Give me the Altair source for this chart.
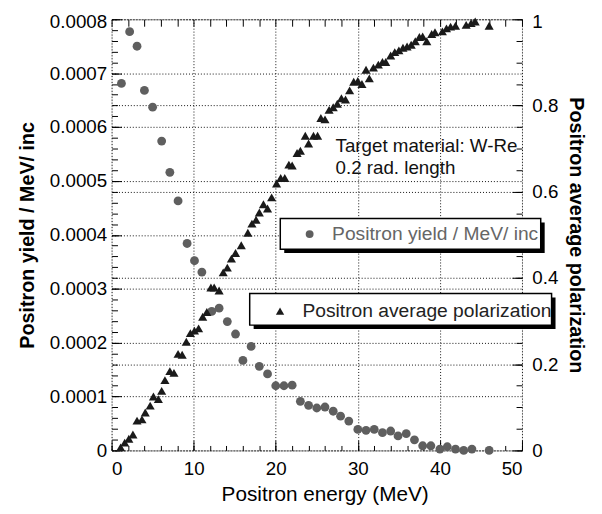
import altair as alt
import pandas as pd

FONT = "Liberation Sans"

# ---- data ----
yield_energy = [1.2, 2.2, 3.1, 4.0, 5.0, 6.1, 7.1, 8.1, 9.2, 10.1, 11.0, 12.2, 13.1, 14.1,
                15.1, 16.0, 17.0, 18.0, 19.0, 20.0, 21.0, 22.0, 23.0, 24.0, 25.0, 26.0,
                27.0, 27.9, 28.9, 30.0, 31.0, 32.0, 33.0, 34.0, 34.9, 35.9, 36.9, 37.9,
                38.9, 40.0, 40.9, 41.9, 42.9, 43.9, 46.0]
yield_values = [0.000681, 0.000777, 0.000750, 0.000668, 0.000637, 0.000574, 0.000516,
                0.000463, 0.000384, 0.000352, 0.000331, 0.000258, 0.000264, 0.000239,
                0.000216, 0.000167, 0.000193, 0.000156, 0.000142, 0.000120, 0.000120,
                0.000121, 0.0000910, 0.0000837, 0.0000787, 0.0000805, 0.0000727,
                0.0000635, 0.0000544, 0.0000390, 0.0000372, 0.0000390, 0.0000330,
                0.0000360, 0.0000269, 0.0000311, 0.0000196, 0.0000086, 0.0000086,
                0.0000024, 0.0000068, 0.0000024, 0.0, 0.0000024, 0.0]

pol_energy = [1.1, 1.6, 2.1, 2.6, 3.1, 3.7, 4.1, 4.7, 5.1, 5.7, 6.1, 6.5, 7.1, 7.6, 8.1,
              8.6, 9.1, 9.6, 10.1, 10.6, 11.1, 11.6, 12.1, 12.5, 13.1, 13.6, 14.1, 14.6,
              15.1, 15.8, 16.6, 17.1, 17.6, 18.0, 18.5, 19.0, 19.5, 20.1, 20.6, 21.1,
              21.6, 22.0, 22.6, 23.0, 23.6, 24.0, 24.6, 25.1, 25.5, 26.0, 26.5, 27.0,
              27.5, 28.0, 28.5, 29.0, 29.5, 30.0, 30.5, 31.0, 31.4, 31.9, 32.5, 33.0,
              33.4, 34.0, 34.5, 35.0, 35.5, 36.0, 36.5, 37.0, 37.5, 37.9, 38.4, 39.0,
              39.4, 40.3, 40.8, 41.3, 41.9, 43.2, 43.8, 44.3, 46.0]
pol_values = [0.007, 0.018, 0.027, 0.037, 0.069, 0.072, 0.088, 0.104, 0.125, 0.119, 0.138,
              0.163, 0.184, 0.180, 0.224, 0.222, 0.252, 0.272, 0.278, 0.283, 0.310, 0.321,
              0.378, 0.378, 0.371, 0.413, 0.424, 0.445, 0.458, 0.476, 0.505, 0.526, 0.535,
              0.552, 0.571, 0.561, 0.587, 0.619, 0.632, 0.632, 0.663, 0.661, 0.690, 0.695,
              0.730, 0.712, 0.730, 0.730, 0.771, 0.768, 0.790, 0.796, 0.804, 0.817, 0.814,
              0.835, 0.855, 0.857, 0.850, 0.883, 0.863, 0.888, 0.895, 0.901, 0.901, 0.916,
              0.924, 0.928, 0.934, 0.937, 0.941, 0.949, 0.959, 0.960, 0.949, 0.966, 0.970,
              0.972, 0.979, 0.983, 0.985, 0.987, 0.991, 0.995, 0.985]

YIELD_LABEL = "Positron yield / MeV/ inc"
POL_LABEL = "Positron average polarization"
X_TITLE = "Positron energy (MeV)"
NOTE_LINE1 = "Target material: W-Re"
NOTE_LINE2 = "0.2 rad. length"

x_major = [0, 10, 20, 30, 40, 50]
x_minor = list(range(0, 51, 2))
yl_major = [0, 0.0001, 0.0002, 0.0003, 0.0004, 0.0005, 0.0006, 0.0007, 0.0008]
yl_minor = [i * 0.00002 for i in range(41)]
yr_major = [0, 0.2, 0.4, 0.6, 0.8, 1.0]
yr_minor = [i * 0.05 for i in range(21)]

df_yield = pd.DataFrame({"energy": yield_energy, "yield": yield_values,
                         "series": [YIELD_LABEL] * len(yield_energy)})
df_pol = pd.DataFrame({"energy": pol_energy, "pol": pol_values,
                       "series": [POL_LABEL] * len(pol_energy)})
one = pd.DataFrame({"k": [0]})

W, H = 416, 437
xscale = alt.Scale(domain=[0, 50], nice=False, zero=False)
ylscale = alt.Scale(domain=[0, 0.0008], nice=False)
yrscale = alt.Scale(domain=[0, 1], nice=False)

GRID = dict(grid=True, gridColor="#111111", gridDash=[1, 2], gridWidth=1)
common = dict(domain=False, tickColor="black", tickWidth=1, labelFont=FONT,
              labelColor="black", titleFont=FONT, titleColor="black")

# yield layer with major axes (bottom, left)
L1 = alt.Chart(df_yield).mark_circle(size=80, opacity=1).encode(
    x=alt.X("energy:Q", scale=xscale, axis=alt.Axis(
        orient="bottom", values=x_major, format="d", title=X_TITLE,
        tickSize=10, offset=-10, labelPadding=9, labelFontSize=19,
        titleFontSize=21, titleFontWeight="normal", titlePadding=6,
        titleX=W / 2 + 8, **GRID, **common)),
    y=alt.Y("yield:Q", scale=ylscale, axis=alt.Axis(
        orient="left", values=yl_major, format="~g", title=YIELD_LABEL,
        tickSize=10, offset=-10, labelPadding=5, labelFontSize=19,
        labelOffset=alt.condition("datum.value >= 0.00079", alt.value(2), alt.value(0)),
        titleFontSize=20, titleFontWeight="bold", titlePadding=12, **GRID, **common)),
    color=alt.Color("series:N", scale=alt.Scale(domain=[YIELD_LABEL], range=["#5f5f5f"]),
                    legend=alt.Legend(orient="none", legendX=191, legendY=208, title=None,
                                      labelFont=FONT, labelFontSize=19.5, labelColor="#666666",
                                      symbolSize=64, symbolType="circle", labelOffset=13,
                                      padding=0, labelLimit=0, zindex=1)),
)

# yield layer with minor ticks (bottom, left)
L2 = alt.Chart(df_yield).mark_circle(opacity=0).encode(
    x=alt.X("energy:Q", scale=xscale, axis=alt.Axis(
        orient="bottom", values=x_minor, labels=False, title=None, grid=False,
        tickSize=5, offset=-5, **common)),
    y=alt.Y("yield:Q", scale=ylscale, axis=alt.Axis(
        orient="left", values=yl_minor, labels=False, title=None, grid=False,
        tickSize=6, offset=-6, **common)),
)

# top ticks
L3 = alt.Chart(df_yield).mark_circle(opacity=0).encode(
    x=alt.X("energy:Q", scale=xscale, axis=alt.Axis(
        orient="top", values=x_minor, labels=False, title=None, grid=False,
        tickSize=7, offset=-7, **common)),
    y=alt.Y("yield:Q", scale=ylscale, axis=None),
)

P1 = alt.Chart(df_pol).mark_point(shape="triangle-up", filled=True, size=85, opacity=1).encode(
    x=alt.X("energy:Q", scale=xscale, axis=None),
    y=alt.Y("pol:Q", scale=yrscale, axis=alt.Axis(
        orient="right", values=yr_major, format="~g", title=POL_LABEL,
        tickSize=10, offset=-10, labelPadding=10, labelFontSize=19,
        labelOffset=alt.condition("datum.value >= 0.99", alt.value(2), alt.value(0)),
        titleFontSize=20, titleFontWeight="bold", titlePadding=8, **GRID, **common)),
    color=alt.Color("series:N", scale=alt.Scale(domain=[POL_LABEL], range=["#1a1a1a"]),
                    legend=alt.Legend(orient="none", legendX=161, legendY=286, title=None,
                                      labelFont=FONT, labelFontSize=19.5, labelColor="#222222",
                                      symbolSize=70, symbolType="triangle-up", labelOffset=13,
                                      padding=0, labelLimit=0, zindex=1)),
)

P2 = alt.Chart(df_pol).mark_point(opacity=0).encode(
    x=alt.X("energy:Q", scale=xscale, axis=None),
    y=alt.Y("pol:Q", scale=yrscale, axis=alt.Axis(
        orient="right", values=yr_minor, labels=False, title=None, grid=False,
        tickSize=6, offset=-6, **common)),
)

yield_group = alt.layer(L1, L2, L3).resolve_axis(x="independent", y="independent")
pol_group = alt.layer(P1, P2).resolve_axis(x="independent", y="independent")


def box(x1, x2, y1, y2, fill, stroke=None):
    kw = dict(fill=fill)
    if stroke:
        kw.update(stroke=stroke, strokeWidth=1.5)
    return alt.Chart(one).mark_rect(**kw).encode(
        x=alt.value(x1), x2=alt.value(x2), y=alt.value(y1), y2=alt.value(y2))


shadow1 = box(175, 439, 206, 237, "black")
box1 = box(171, 435, 202, 233, "white", "black")
shadow2 = box(144, 450, 282, 314, "black")
box2 = box(140, 446, 278, 310, "white", "black")

note1 = alt.Chart(one).mark_text(align="left", baseline="middle", font=FONT, fontSize=19,
                                 color="#111111").encode(
    x=alt.value(227), y=alt.value(129), text=alt.value(NOTE_LINE1))
note2 = alt.Chart(one).mark_text(align="left", baseline="middle", font=FONT, fontSize=19,
                                 color="#111111").encode(
    x=alt.value(227), y=alt.value(151), text=alt.value(NOTE_LINE2))

chart = alt.layer(
    yield_group, pol_group, note1, note2, shadow1, box1, shadow2, box2
).resolve_scale(
    y="independent", color="independent"
).resolve_axis(
    x="independent", y="independent"
).properties(
    width=W, height=H,
    autosize=alt.AutoSizeParams(type="none"),
    padding={"left": 105, "top": 8, "right": 73, "bottom": 61},
).configure_view(
    stroke="black", strokeWidth=1.5
).configure(background="white")

chart.save("out.html", embed_options={"renderer": "svg", "actions": False})
